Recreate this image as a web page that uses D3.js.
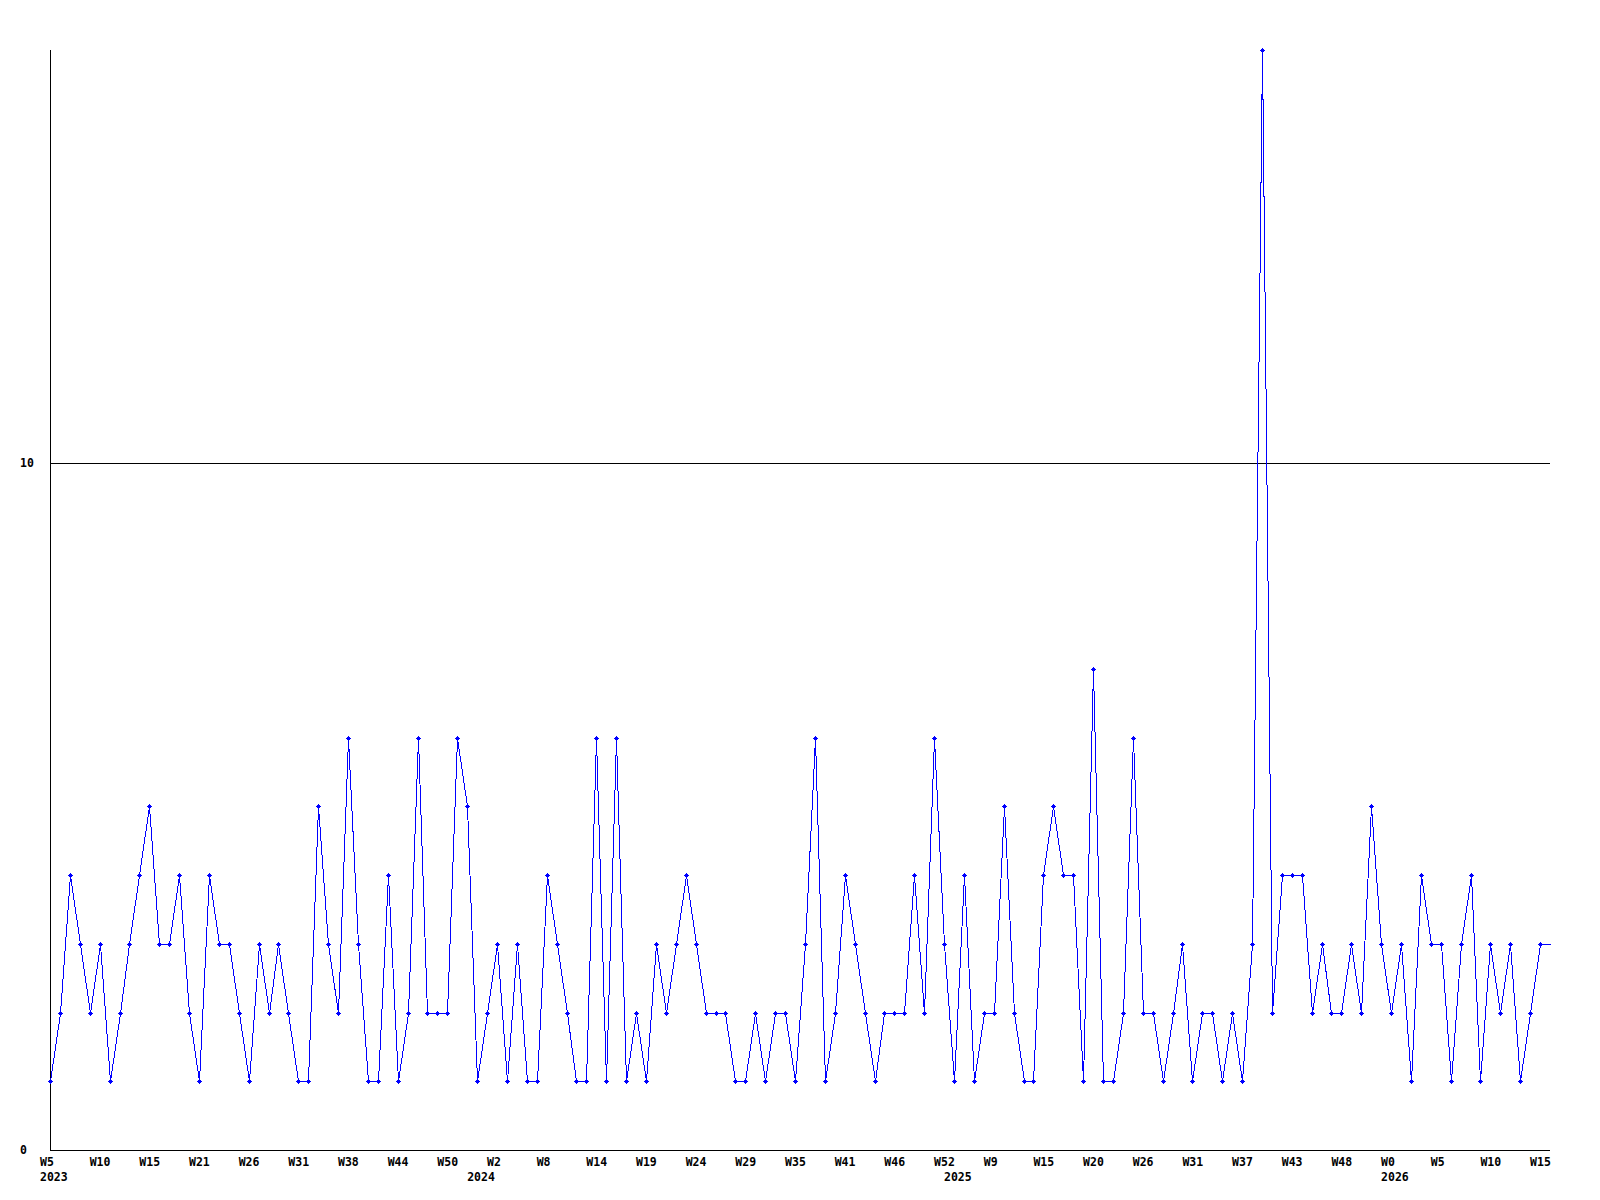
<!DOCTYPE html>
<html>
<head>
<meta charset="utf-8">
<script src="https://cdn.jsdelivr.net/npm/d3@7"></script>
<style>
  html, body { margin: 0; padding: 0; background: #ffffff; }
  svg { display: block; }
  text { font-family: "DejaVu Sans Mono", "Liberation Mono", monospace; font-weight: bold; font-size: 11.5px; fill: #000; }
</style>
</head>
<body>
<script>
// ---- data ----
const values = [
  1,2,4,3,2,3,1,2,3,4,5,3,3,4,2,1,4,3,3,2,1,3,2,3,2,1,
  1,5,3,2,6,3,1,1,4,1,2,6,2,2,2,6,5,1,2,3,1,3,1,1,4,
  3,2,1,1,6,1,6,1,2,1,3,2,3,4,3,2,2,2,1,1,2,1,2,2,1,
  3,6,1,2,4,3,2,1,2,2,2,4,2,6,3,1,4,1,2,2,5,2,1,1,4,
  5,4,4,1,7,1,1,2,6,2,2,1,2,3,1,2,2,1,2,1,3,16,2,4,4,
  4,2,3,2,2,3,2,5,3,2,3,1,4,3,3,1,3,4,1,3,2,3,1,2,3
];
const weekLabels = ["W5","W10","W15","W21","W26","W31","W38","W44","W50","W2","W8","W14","W19","W24","W29","W35","W41","W46","W52","W9","W15","W20","W26","W31","W37","W43","W48","W0","W5","W10","W15"];
const weekLabelIndex = weekLabels.map((d, i) => i * 5);
const yearLabels = ["2023","2024","2025","2026"];
const yearLabelIndex = [0, 43, 91, 135];
const yTicks = [0, 10];
const yMax = 16;

// ---- layout ----
const W = 1600, H = 1200;
const mLeft = 50, mRight = 1550, mTop = 50, mBottom = 1150;

const svg = d3.select("body").append("svg").attr("width", W).attr("height", H);

const x = d3.scaleLinear().domain([0, values.length]).range([mLeft, mRight]);
const y = d3.scaleLinear().domain([0, yMax]).range([mBottom, mTop]);

// gridline at y ticks (non-zero)
svg.selectAll("line.grid").data(yTicks.filter(d => d !== 0)).enter().append("line")
  .attr("class", "grid")
  .attr("x1", mLeft).attr("x2", mRight)
  .attr("y1", d => Math.round(y(d)) + 0.5).attr("y2", d => Math.round(y(d)) + 0.5)
  .attr("stroke", "#000").attr("stroke-width", 1)
  .attr("shape-rendering", "crispEdges");

// axes lines
svg.append("line").attr("x1", mLeft + 0.5).attr("x2", mLeft + 0.5).attr("y1", mTop).attr("y2", mBottom + 0.5)
  .attr("stroke", "#000").attr("stroke-width", 1).attr("shape-rendering", "crispEdges");
svg.append("line").attr("x1", mLeft).attr("x2", mRight).attr("y1", mBottom + 0.5).attr("y2", mBottom + 0.5)
  .attr("stroke", "#000").attr("stroke-width", 1).attr("shape-rendering", "crispEdges");

// y labels
svg.selectAll("text.ylab").data(yTicks).enter().append("text")
  .attr("class", "ylab")
  .attr("x", 20)
  .attr("y", d => y(d) + 4)
  .text(d => d);

// x labels
svg.selectAll("text.wlab").data(weekLabels).enter().append("text")
  .attr("class", "wlab")
  .attr("x", (d, i) => x(weekLabelIndex[i]) - 10)
  .attr("y", 1166)
  .text(d => d);

svg.selectAll("text.yrlab").data(yearLabels).enter().append("text")
  .attr("class", "yrlab")
  .attr("x", (d, i) => x(yearLabelIndex[i]) - 10)
  .attr("y", 1181)
  .text(d => d);

// line (last value carried to right edge)
const lineData = values.map((v, i) => [i, v]);
lineData.push([values.length, values[values.length - 1]]);

const line = d3.line().x(d => Math.round(x(d[0])) + 0.5).y(d => Math.round(y(d[1])) + 0.5);
svg.append("path")
  .datum(lineData)
  .attr("d", line)
  .attr("fill", "none")
  .attr("stroke", "#0000ff")
  .attr("stroke-width", 1)
  .attr("shape-rendering", "crispEdges");

// markers
const marker = "M-1.5,-1.5h3v3h-3z M-2.5,-0.5h5v1h-5z M-0.5,-2.5h1v5h-1z";
svg.selectAll("path.mk").data(values).enter().append("path")
  .attr("class", "mk")
  .attr("transform", (d, i) => `translate(${Math.round(x(i)) + 0.5},${Math.round(y(d)) + 0.5})`)
  .attr("d", marker)
  .attr("fill", "#0000ff")
  .attr("shape-rendering", "crispEdges");
</script>
</body>
</html>
